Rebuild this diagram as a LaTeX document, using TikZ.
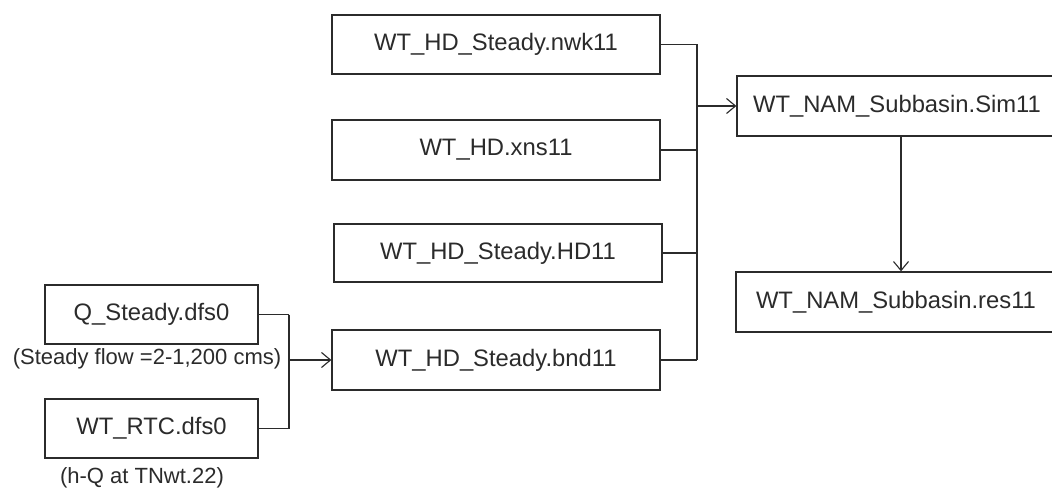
\documentclass[tikz,border=0pt]{standalone}
\usepackage{fontspec}
\setmainfont{Liberation Sans}
\usetikzlibrary{arrows.meta}
\definecolor{ink}{HTML}{2B2B2B}
\begin{document}
\begin{tikzpicture}[x=1pt,y=-1pt,
  filebox/.style={draw=ink,line width=1.3pt,inner sep=0pt,text=ink,
    font=\fontsize{23.8}{26}\selectfont},
  note/.style={inner sep=0pt,text=ink,font=\fontsize{22}{25}\selectfont},
  wire/.style={draw=ink,line width=1.2pt},
  arrowwire/.style={wire,-{Straight Barb[length=9pt,width=15pt,line width=1.1pt]}}]
\useasboundingbox (0,0) rectangle (1052,492);
\fill[white] (0,0) rectangle (1052,492);
% boxes
\node[filebox,minimum width=328pt,minimum height=59pt] (nwk) at (496,44.5) {WT\_HD\_Steady.nwk11};
\node[filebox,minimum width=328pt,minimum height=60pt] (xns) at (496,150) {WT\_HD.xns11};
\node[filebox,minimum width=328pt,minimum height=58pt] (hd) at (498,253) {WT\_HD\_Steady.HD11};
\node[filebox,minimum width=328pt,minimum height=60pt] (bnd) at (496,360) {WT\_HD\_Steady.bnd11};
\node[filebox,minimum width=320pt,minimum height=60pt] (sim) at (897,106) {WT\_NAM\_Subbasin.Sim11};
\node[filebox,minimum width=320pt,minimum height=60pt] (res) at (896,302) {WT\_NAM\_Subbasin.res11};
\node[filebox,minimum width=213pt,minimum height=59pt] (q) at (151.5,314.5) {Q\_Steady.dfs0};
\node[filebox,minimum width=213pt,minimum height=59pt] (rtc) at (151.5,428.5) {WT\_RTC.dfs0};
% notes
\node[note] (qnote) at (147,359) {(Steady flow =2-1,200 cms)};
\node[note] (rtcnote) at (142,478) {(h-Q at TNwt.22)};
% right bus
\coordinate (busT) at (697,44.5);
\coordinate (busB) at (697,360);
\draw[wire] (nwk.east) -- (busT);
\draw[wire] (xns.east) -- (xns.east -| busT);
\draw[wire] (hd.east) -- (hd.east -| busT);
\draw[wire] (bnd.east) -- (busB);
\draw[wire] (busT) -- (busB);
\coordinate (simIn) at (697,106);
\draw[arrowwire] (simIn) -- (sim.west);
\coordinate (simOut) at (901,136);
\draw[arrowwire] (simOut) -- (simOut |- res.north);
% left bus
\coordinate (lbT) at (289,314.5);
\coordinate (lbB) at (289,428.5);
\draw[wire] (q.east) -- (lbT);
\draw[wire] (rtc.east) -- (lbB);
\draw[wire] (lbT) -- (lbB);
\coordinate (lbM) at (289,360);
\draw[arrowwire] (lbM) -- (bnd.west);
\end{tikzpicture}
\end{document}
